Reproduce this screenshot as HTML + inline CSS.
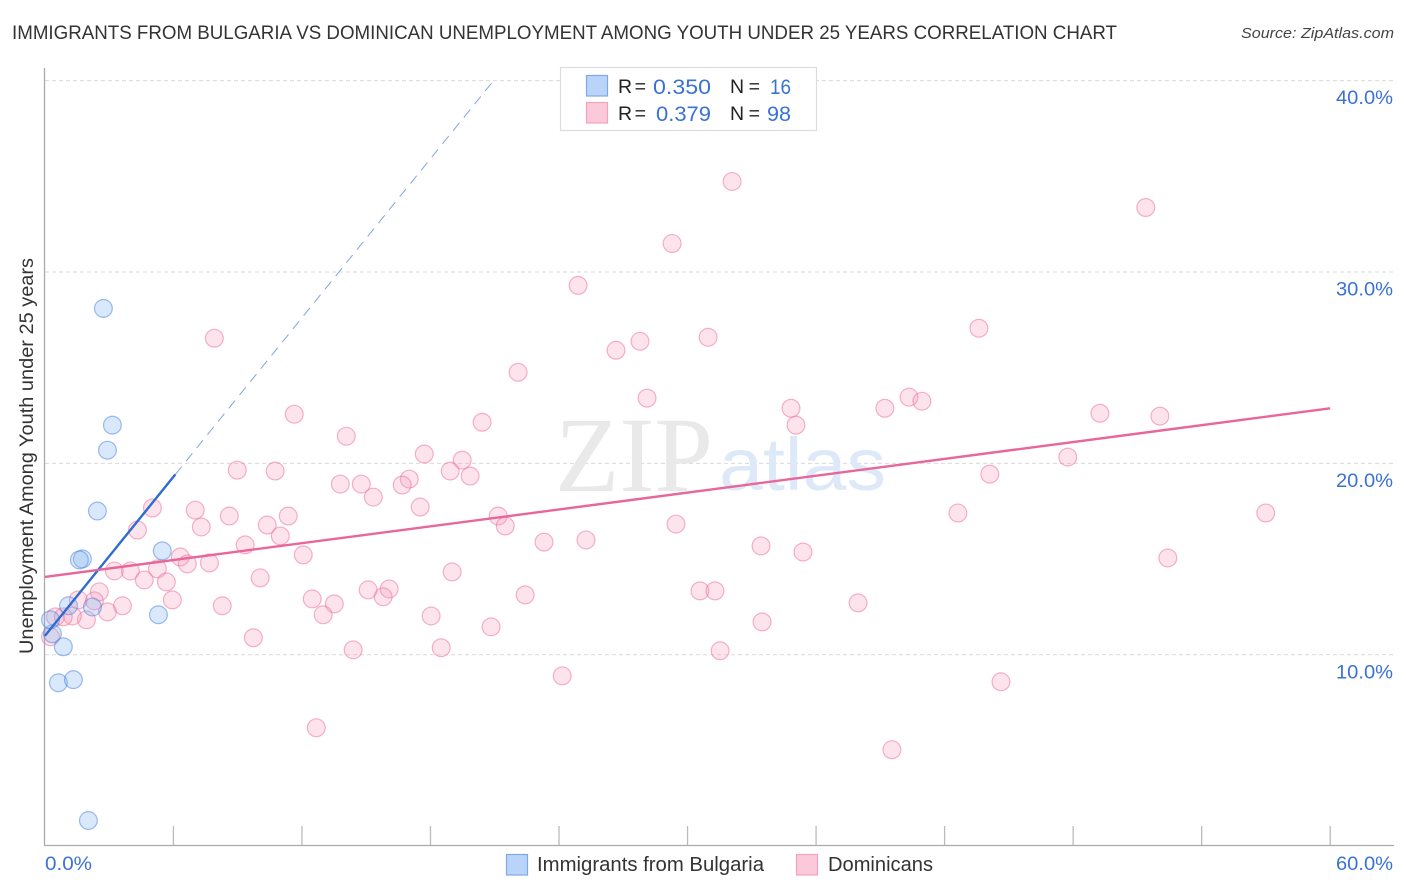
<!DOCTYPE html>
<html lang="en">
<head>
<meta charset="utf-8">
<title>Immigrants from Bulgaria vs Dominican Unemployment Among Youth Under 25 Years Correlation Chart</title>
<style>
html,body{margin:0;padding:0;background:#fff;width:1406px;height:892px;overflow:hidden}
svg{display:block;font-family:"Liberation Sans",sans-serif}
</style>
</head>
<body>
<svg id="chart" xmlns="http://www.w3.org/2000/svg" width="1406" height="892" viewBox="0 0 1406 892">
  <text x="12" y="39" font-size="19.5" fill="#333" textLength="1105" lengthAdjust="spacingAndGlyphs">IMMIGRANTS FROM BULGARIA VS DOMINICAN UNEMPLOYMENT AMONG YOUTH UNDER 25 YEARS CORRELATION CHART</text>
  <text x="1241" y="38" font-size="15" font-style="italic" fill="#444" textLength="153" lengthAdjust="spacingAndGlyphs">Source: ZipAtlas.com</text>

  <g id="grid"></g>

  <g>
    <text x="555" y="491" font-family="'Liberation Serif',serif" font-size="107" fill="#e9e9e9" textLength="158" lengthAdjust="spacingAndGlyphs">ZIP</text>
    <text x="719" y="490" font-size="74" fill="#dde9f8" textLength="167" lengthAdjust="spacingAndGlyphs">atlas</text>
  </g>

  <line x1="44.5" y1="68" x2="44.5" y2="845.5" stroke="#aaa" stroke-width="1.3"/>
  <line x1="44" y1="845.5" x2="1394" y2="845.5" stroke="#aaa" stroke-width="1.3"/>
  <g id="xticks"></g>
  <g id="ylabels"></g>
  <g id="xlabels"></g>

  <text transform="translate(33,456) rotate(-90)" text-anchor="middle" font-size="19" fill="#333" textLength="396" lengthAdjust="spacingAndGlyphs">Unemployment Among Youth under 25 years</text>

  <g id="pinkPoints"></g>
  <g id="bluePoints"></g>
  <g id="trends"></g>

  <g>
    <rect x="560.5" y="67.5" width="256" height="63" fill="#fff" stroke="#dcdcdc" stroke-width="1.2"/>
    <rect x="586.5" y="75.5" width="21" height="20.5" fill="#b9d4f8" stroke="#7ea9e6" stroke-width="1.2"/>
    <rect x="586.5" y="102.5" width="21" height="20.5" fill="#fcc9da" stroke="#f0a3bf" stroke-width="1.2"/>
    <g font-size="19.5" fill="#222">
      <text x="618" y="93" textLength="28" lengthAdjust="spacing">R =</text>
      <text x="730" y="93" textLength="30" lengthAdjust="spacing">N =</text>
      <text x="618" y="120" textLength="28" lengthAdjust="spacing">R =</text>
      <text x="730" y="120" textLength="30" lengthAdjust="spacing">N =</text>
    </g>
    <g font-size="21" fill="#3a72d4">
      <text x="653" y="94" textLength="58" lengthAdjust="spacingAndGlyphs">0.350</text>
      <text x="770" y="94" textLength="21" lengthAdjust="spacingAndGlyphs">16</text>
      <text x="656" y="121" textLength="55" lengthAdjust="spacingAndGlyphs">0.379</text>
      <text x="767" y="121" textLength="24" lengthAdjust="spacingAndGlyphs">98</text>
    </g>
  </g>

  <g>
    <rect x="506.5" y="854.5" width="21" height="20.5" fill="#b9d4f8" stroke="#7ea9e6" stroke-width="1.2"/>
    <text x="537" y="871" font-size="20" fill="#333" textLength="227" lengthAdjust="spacingAndGlyphs">Immigrants from Bulgaria</text>
    <rect x="796.5" y="854.5" width="21" height="20.5" fill="#fcc9da" stroke="#f0a3bf" stroke-width="1.2"/>
    <text x="828" y="871" font-size="20" fill="#333" textLength="105" lengthAdjust="spacingAndGlyphs">Dominicans</text>
  </g>
</svg>
<script>
const yTickValues = [10, 20, 30, 40];
const yTickLabels = ["10.0%", "20.0%", "30.0%", "40.0%"];
const xTickValues = [0, 6, 12, 18, 24, 30, 36, 42, 48, 54, 60];
const xEndValues = [0, 60];
const xEndLabels = ["0.0%", "60.0%"];

const bulgariaX = [2.73, 3.15, 2.92, 2.45, 1.75, 1.61, 5.48, 5.30, 2.22, 1.10, 0.86, 0.63, 1.33, 2.03, 0.35, 0.26];
const bulgariaY = [28.10, 22.00, 20.69, 17.51, 15.01, 14.96, 15.43, 12.09, 12.50, 12.56, 10.42, 8.54, 8.70, 1.34, 11.10, 11.83];

const dominicanX = [32.08, 51.39, 29.28, 24.89, 7.91, 27.78, 26.66, 30.96, 43.60, 22.09,
  28.11, 11.64, 34.83, 39.21, 40.34, 40.94, 49.25, 52.05, 35.06, 20.41,
  14.07, 17.71, 19.48, 47.75, 18.92, 8.98, 10.75, 19.85, 17.01, 16.68,
  13.79, 14.77, 44.11, 15.33, 5.02, 7.02, 17.52, 8.61, 11.36, 42.62,
  56.99, 21.16, 4.32, 7.30, 10.38, 21.49, 29.46, 10.99, 9.35, 23.30,
  25.26, 33.43, 35.39, 12.06, 6.32, 6.65, 7.68, 52.42, 3.24, 3.99,
  5.25, 19.01, 4.64, 5.67, 10.05, 15.09, 16.07, 15.79, 12.48, 13.51,
  12.99, 5.95, 2.54, 1.56, 2.31, 3.62, 2.92, 8.28, 22.42, 30.58,
  31.28, 37.96, 18.03, 20.83, 33.48, 9.73, 18.50, 14.39, 31.52, 24.15,
  44.63, 12.67, 39.54, 1.94, 1.28, 0.49, 0.26, 0.86];
const dominicanY = [34.73, 33.37, 31.49, 29.30, 26.54, 26.38, 25.91, 26.59, 27.06, 24.76,
  23.41, 22.57, 22.88, 22.88, 23.46, 23.25, 22.62, 22.47, 22.00, 22.15,
  21.42, 20.49, 20.17, 20.33, 19.60, 19.65, 19.60, 19.34, 19.18, 18.87,
  18.92, 18.92, 19.44, 18.24, 17.67, 17.56, 17.72, 17.25, 17.25, 17.41,
  17.41, 17.25, 16.52, 16.68, 16.78, 16.73, 16.83, 16.21, 15.74, 15.89,
  16.00, 15.69, 15.37, 15.22, 15.11, 14.75, 14.80, 15.06, 14.38, 14.38,
  14.49, 14.33, 13.91, 13.81, 14.02, 13.39, 13.44, 13.03, 12.92, 12.66,
  12.09, 12.87, 13.29, 12.87, 12.82, 12.56, 12.24, 12.56, 13.13, 13.34,
  13.34, 12.71, 12.03, 11.46, 11.72, 10.89, 10.37, 10.26, 10.21, 8.90,
  8.59, 6.19, 5.04, 11.83, 12.03, 11.98, 10.94, 11.98];

const bulgariaFit = [10.99, 1.385];
const bulgariaSolidRange = [0, 6.09];
const bulgariaDashRange = [6.09, 21];
const dominicanFit = [14.07, 0.1468];
const dominicanRange = [0, 60];

const NS = "http://www.w3.org/2000/svg";
function xPos(v) { return 44.9 + v * (1285.3 / 60); }
function yPos(v) { return 654.8 - (v - 10) * 19.14; }
function make(tag, attrs, parent) {
  const el = document.createElementNS(NS, tag);
  for (const k in attrs) el.setAttribute(k, attrs[k]);
  parent.appendChild(el);
  return el;
}

const gridGroup = document.getElementById("grid");
yTickValues.forEach(function (v) {
  const el = make("line", { x1: 45, x2: 1393, y1: yPos(v), y2: yPos(v), stroke: "#d9d9d9", "stroke-width": 1, "stroke-dasharray": "4 3" }, gridGroup);
  
  
});

const xTickGroup = document.getElementById("xticks");
xTickValues.slice(1).forEach(function (v) {
  const el = make("line", { x1: xPos(v), x2: xPos(v), y1: 826, y2: 845, stroke: "#bbb", "stroke-width": 1.3 }, xTickGroup);
  
  
});

const yLabelGroup = document.getElementById("ylabels");
yTickValues.forEach(function (v, i) {
  const el = make("text", { x: 1336, y: yPos(v) + 23.5, "font-size": 19.5, fill: "#3a72d4", textLength: 57, lengthAdjust: "spacingAndGlyphs" }, yLabelGroup);
  
  
  el.textContent = yTickLabels[i];
});

const xLabelGroup = document.getElementById("xlabels");
xEndValues.forEach(function (v, i) {
  const px = i === 0 ? 45 : 1336;
  const len = i === 0 ? 47 : 57;
  const el = make("text", { x: px, y: 870, "font-size": 19.5, fill: "#3a72d4", textLength: len, lengthAdjust: "spacingAndGlyphs" }, xLabelGroup);
  
  
  el.textContent = xEndLabels[i];
});

const pinkGroup = document.getElementById("pinkPoints");
dominicanX.forEach(function (v, i) {
  const el = make("circle", { cx: xPos(v), cy: yPos(dominicanY[i]), r: 8.9, fill: "rgba(246,150,182,0.26)", stroke: "rgba(236,110,152,0.52)", "stroke-width": 1.2 }, pinkGroup);
  
  
});

const blueGroup = document.getElementById("bluePoints");
bulgariaX.forEach(function (v, i) {
  const el = make("circle", { cx: xPos(v), cy: yPos(bulgariaY[i]), r: 8.9, fill: "rgba(130,178,240,0.3)", stroke: "rgba(70,130,222,0.52)", "stroke-width": 1.2 }, blueGroup);
  
  
});

const trendGroup = document.getElementById("trends");
function fitY(fit, x) { return fit[0] + fit[1] * x; }

const dashLine = make("line", { x1: xPos(bulgariaDashRange[0]), y1: yPos(fitY(bulgariaFit, bulgariaDashRange[0])), x2: xPos(bulgariaDashRange[1]), y2: yPos(fitY(bulgariaFit, bulgariaDashRange[1])), stroke: "#7fa6e2", "stroke-width": 1, "stroke-dasharray": "10 7" }, trendGroup);



const blueLine = make("line", { x1: xPos(bulgariaSolidRange[0]), y1: yPos(fitY(bulgariaFit, bulgariaSolidRange[0])), x2: xPos(bulgariaSolidRange[1]), y2: yPos(fitY(bulgariaFit, bulgariaSolidRange[1])), stroke: "#2f6bd0", "stroke-width": 2.4 }, trendGroup);



const pinkLine = make("line", { x1: xPos(dominicanRange[0]), y1: yPos(fitY(dominicanFit, dominicanRange[0])), x2: xPos(dominicanRange[1]), y2: yPos(fitY(dominicanFit, dominicanRange[1])), stroke: "#e8669a", "stroke-width": 2.4 }, trendGroup);


</script>
</body>
</html>
